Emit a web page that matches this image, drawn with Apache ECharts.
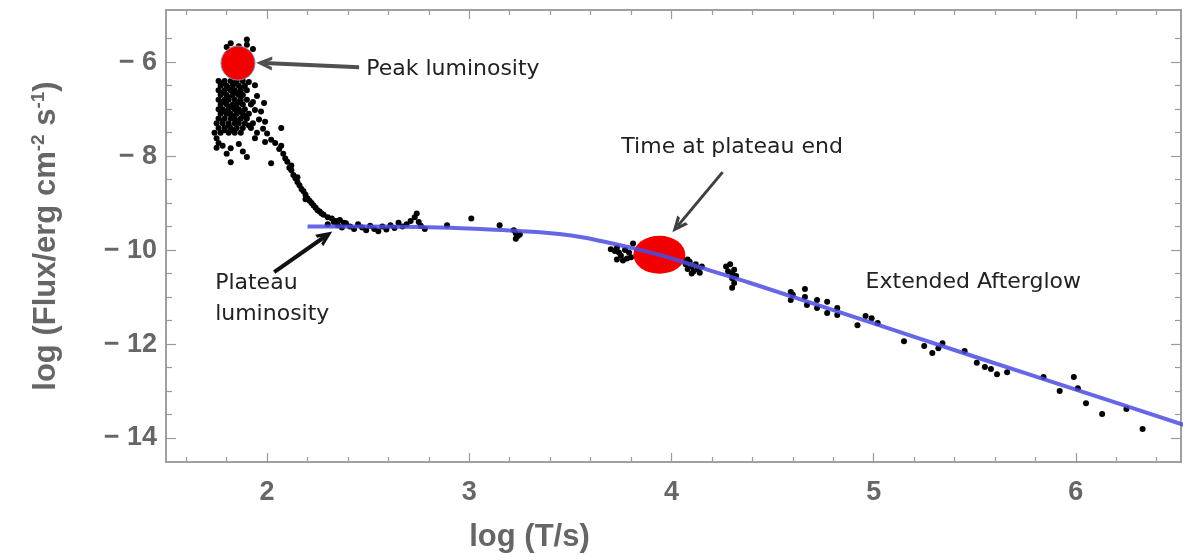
<!DOCTYPE html>
<html>
<head>
<meta charset="utf-8">
<script src="https://cdn.jsdelivr.net/npm/echarts@6/dist/echarts.min.js"></script>
<style>
  html, body { margin: 0; padding: 0; background: #fff; }
  #chart { width: 1191px; height: 560px; }
</style>
</head>
<body>
<div id="chart"></div>
<script>
// 坐标轴刻度
const xLabelValues = [2, 3, 4, 5, 6];
const xMinorValues = [1.6, 1.8, 2.2, 2.4, 2.6, 2.8, 3.2, 3.4, 3.6, 3.8, 4.2, 4.4, 4.6, 4.8, 5.2, 5.4, 5.6, 5.8, 6.2, 6.4];
const yLabelValues = [-14, -12, -10, -8, -6];
const yMinorValues = [-5.5, -6.5, -7, -7.5, -8.5, -9, -9.5, -10.5, -11, -11.5, -12.5, -13, -13.5];

// 观测点 [log T, log Flux]
const peakCluster = [
  [1.82, -5.60], [1.90, -5.52], [1.90, -5.63], [1.86, -5.66], [1.80, -5.68], [1.93, -5.72],
  [1.76, -6.40], [1.79, -6.40], [1.82, -6.40], [1.85, -6.40], [1.88, -6.40], [1.91, -6.42],
  [1.77, -6.50], [1.80, -6.50], [1.83, -6.50], [1.86, -6.50], [1.89, -6.50], [1.94, -6.49],
  [1.76, -6.60], [1.79, -6.60], [1.82, -6.60], [1.84, -6.60], [1.87, -6.60], [1.90, -6.60],
  [1.77, -6.70], [1.80, -6.70], [1.83, -6.70], [1.86, -6.70], [1.88, -6.70], [1.95, -6.72],
  [1.76, -6.80], [1.79, -6.80], [1.81, -6.80], [1.84, -6.80], [1.87, -6.80], [1.90, -6.80],
  [1.77, -6.90], [1.80, -6.90], [1.83, -6.90], [1.85, -6.90], [1.88, -6.90], [1.92, -6.90], [1.985, -6.87],
  [1.76, -7.00], [1.78, -7.00], [1.81, -7.00], [1.84, -7.00], [1.86, -7.00], [1.89, -7.00], [1.94, -7.02],
  [1.77, -7.10], [1.80, -7.10], [1.82, -7.10], [1.85, -7.10], [1.88, -7.10], [1.91, -7.10], [1.97, -7.05],
  [1.76, -7.20], [1.79, -7.20], [1.82, -7.20], [1.84, -7.20], [1.87, -7.20], [1.90, -7.20], [1.96, -7.22],
  [1.75, -7.30], [1.78, -7.30], [1.81, -7.30], [1.84, -7.30], [1.86, -7.30], [1.89, -7.30], [1.93, -7.30], [1.99, -7.27],
  [1.76, -7.40], [1.79, -7.40], [1.82, -7.40], [1.85, -7.40], [1.88, -7.40], [1.92, -7.40], [1.98, -7.42], [2.07, -7.40],
  [1.74, -7.50], [1.77, -7.50], [1.81, -7.50], [1.84, -7.50], [1.87, -7.50], [1.95, -7.50], [2.00, -7.52],
  [1.78, -6.45], [1.81, -6.55], [1.84, -6.45], [1.87, -6.55], [1.78, -6.65], [1.81, -6.75], [1.85, -6.65],
  [1.78, -6.85], [1.82, -6.95], [1.86, -6.85], [1.79, -7.05], [1.83, -7.15], [1.87, -7.05], [1.78, -7.25],
  [1.81, -7.35], [1.85, -7.25], [1.79, -7.45], [1.83, -7.45], [1.89, -7.15], [1.91, -7.35], [1.93, -6.85],
  [1.75, -7.62], [1.76, -7.72], [1.75, -7.82], [1.78, -7.78], [1.82, -7.83], [1.80, -7.95],
  [1.82, -8.13], [1.86, -7.74], [1.88, -7.90], [1.90, -8.02], [1.94, -7.62], [1.99, -7.70], [2.02, -8.15]
];
const decayTail = [
  [2.02, -7.65], [2.04, -7.72], [2.06, -7.85], [2.07, -7.78], [2.08, -7.95], [2.09, -8.05],
  [2.10, -8.12], [2.11, -8.25], [2.12, -8.20], [2.12, -8.30], [2.13, -8.40], [2.14, -8.47],
  [2.15, -8.55], [2.15, -8.45], [2.16, -8.62], [2.17, -8.70], [2.18, -8.75], [2.19, -8.82],
  [2.19, -8.92], [2.20, -8.90], [2.21, -8.95], [2.22, -9.00], [2.23, -9.05], [2.24, -9.10],
  [2.25, -9.15], [2.26, -9.18], [2.27, -9.22], [2.28, -9.25], [2.30, -9.30], [2.32, -9.33],
  [2.34, -9.38], [2.36, -9.36], [2.38, -9.42]
];
const plateauPoints = [
  [2.30, -9.45], [2.33, -9.40], [2.35, -9.47], [2.37, -9.52], [2.39, -9.43], [2.41, -9.50],
  [2.43, -9.55], [2.45, -9.45], [2.47, -9.52], [2.49, -9.58], [2.51, -9.48], [2.53, -9.55],
  [2.55, -9.60], [2.57, -9.50], [2.59, -9.56], [2.61, -9.47], [2.63, -9.53], [2.65, -9.42],
  [2.67, -9.50], [2.69, -9.45], [2.71, -9.38], [2.73, -9.30], [2.74, -9.22], [2.75, -9.40],
  [2.76, -9.48], [2.78, -9.55], [2.89, -9.47], [3.01, -9.33], [3.15, -9.47], [3.22, -9.58],
  [3.23, -9.64], [3.24, -9.70], [3.23, -9.76], [3.25, -9.67]
];
const breakPoints = [
  [3.70, -9.98], [3.72, -10.02], [3.73, -9.95], [3.74, -10.05], [3.75, -10.12], [3.73, -10.20],
  [3.76, -10.22], [3.78, -10.18], [3.77, -10.00], [3.79, -10.05], [3.81, -9.86], [3.80, -10.15],
  [4.06, -10.22], [4.07, -10.30], [4.08, -10.40], [4.09, -10.25], [4.10, -10.35], [4.11, -10.45],
  [4.12, -10.30], [4.13, -10.40], [4.14, -10.48], [4.15, -10.35], [4.10, -10.50], [4.08, -10.20],
  [4.27, -10.35], [4.28, -10.45], [4.29, -10.30], [4.30, -10.50], [4.31, -10.42], [4.30, -10.60],
  [4.31, -10.70], [4.30, -10.80], [4.32, -10.55]
];
const afterglowPoints = [
  [4.59, -10.89], [4.59, -11.06], [4.60, -10.95], [4.66, -10.83], [4.66, -11.00], [4.67, -11.17],
  [4.72, -11.06], [4.72, -11.23], [4.77, -11.10], [4.77, -11.34], [4.82, -11.23], [4.82, -11.38],
  [4.92, -11.60], [4.96, -11.40], [4.99, -11.45], [5.02, -11.55], [5.15, -11.94], [5.25, -12.04],
  [5.29, -12.19], [5.32, -12.09], [5.34, -11.98], [5.45, -12.15], [5.51, -12.40], [5.55, -12.49],
  [5.58, -12.53], [5.61, -12.64], [5.66, -12.60], [5.84, -12.70], [5.92, -13.00], [5.99, -12.70],
  [6.01, -12.94], [6.05, -13.26], [6.13, -13.49], [6.25, -13.38], [6.33, -13.81]
];

// 拟合曲线
const fitLine = [
  [2.20, -9.50], [2.50, -9.50], [2.85, -9.52], [3.10, -9.56], [3.35, -9.62], [3.55, -9.72],
  [3.73, -9.88], [3.94, -10.10], [4.15, -10.38], [4.39, -10.70], [5.00, -11.56], [5.50, -12.27],
  [6.00, -12.97], [6.57, -13.77]
];

// 特殊点
const peakMarker = [[1.856, -6.02]];
const breakMarker = [[3.94, -10.10]];

const X_MIN = 1.5, X_MAX = 6.52;
const Y_MIN = -14.51, Y_MAX = -4.89;
const frameColor = '#9a9a9a';
const labelFont = 'Liberation Sans';
const noteFont = 'DejaVu Sans';
const chevron = 'path://M0,14 L7,0 L14,14 L10.5,14 L7,6.5 L3.5,14 Z';

function xAxisAt(position, ticks, len, extra) {
  return Object.assign({
    type: 'value', position, min: X_MIN, max: X_MAX,
    axisLine: { show: true, onZero: false, lineStyle: { color: frameColor, width: 1.5 } },
    axisTick: { show: true, inside: true, length: len, customValues: ticks, lineStyle: { color: frameColor, width: 1.2 } },
    axisLabel: { show: false },
    splitLine: { show: false }
  }, extra);
}
function yAxisAt(position, ticks, len, extra) {
  return Object.assign({
    type: 'value', position, min: Y_MIN, max: Y_MAX,
    axisLine: { show: true, onZero: false, lineStyle: { color: frameColor, width: 1.5 } },
    axisTick: { show: true, inside: true, length: len, customValues: ticks, lineStyle: { color: frameColor, width: 1.2 } },
    axisLabel: { show: false },
    splitLine: { show: false }
  }, extra);
}

const myChart = echarts.init(document.getElementById('chart'));

const option = {
  animation: false,
  backgroundColor: '#fff',
  grid: { left: 166, right: 10, top: 10, bottom: 98 },
  xAxis: [
    xAxisAt('bottom', xLabelValues, 9, {
      axisLabel: {
        show: true, customValues: xLabelValues, margin: 17,
        color: '#666', fontFamily: labelFont, fontWeight: 'bold', fontSize: 27
      },
      name: 'log (T/s)', nameLocation: 'middle', nameGap: 60,
      nameTextStyle: {
        color: '#666', fontFamily: labelFont, fontWeight: 'bold', fontSize: 31,
        padding: [0, 288, 0, 0]
      }
    }),
    xAxisAt('bottom', xMinorValues, 5),
    xAxisAt('top', xLabelValues, 9),
    xAxisAt('top', xMinorValues, 5)
  ],
  yAxis: [
    yAxisAt('left', yLabelValues, 10, {
      axisLabel: {
        show: true, customValues: yLabelValues, margin: 9,
        color: '#666', fontFamily: labelFont, fontWeight: 'bold', fontSize: 27,
        formatter: v => '\u2212 ' + Math.abs(v)
      },
      name: 'log (Flux/erg cm{sup|-2} s{sup|-1})', nameLocation: 'middle', nameGap: 102,
      nameTextStyle: {
        color: '#666', fontFamily: labelFont, fontWeight: 'bold', fontSize: 31,
        rich: { sup: { color: '#666', fontFamily: labelFont, fontWeight: 'bold', fontSize: 19, padding: [0, 0, 16, 0] } }
      }
    }),
    yAxisAt('left', yMinorValues, 6),
    yAxisAt('right', yLabelValues, 10),
    yAxisAt('right', yMinorValues, 6)
  ],
  series: [
    {
      name: 'data',
      type: 'scatter',
      data: [].concat(peakCluster, decayTail, plateauPoints, breakPoints, afterglowPoints),
      symbolSize: 6,
      itemStyle: { color: '#000', opacity: 1 },
      z: 1
    },
    {
      name: 'peak',
      type: 'scatter',
      data: peakMarker,
      symbolSize: 34,
      itemStyle: { color: '#f20000', opacity: 1, borderColor: '#8a8aa8', borderWidth: 1 },
      z: 2
    },
    {
      name: 'break',
      type: 'scatter',
      data: breakMarker,
      symbolSize: [52, 38],
      itemStyle: { color: '#f20000', opacity: 1 },
      z: 2
    },
    {
      name: 'fit',
      type: 'line',
      data: fitLine,
      smooth: 0.3,
      showSymbol: false,
      lineStyle: { color: '#4c4ce2', width: 4, opacity: 0.85 },
      z: 3,
      markLine: {
        silent: true,
        animation: false,
        symbol: ['none', chevron],
        symbolSize: [14, 16],
        label: { show: false },
        data: [
          [{ coord: [2.455, -6.106], lineStyle: { color: '#505050', width: 4, type: 'solid' } }, { coord: [1.985, -6.02] }],
          [{ coord: [4.253, -8.34], lineStyle: { color: '#404040', width: 3, type: 'solid' } }, { coord: [4.03, -9.49] }],
          [{ coord: [2.035, -10.47], lineStyle: { color: '#111', width: 4, type: 'solid' } }, { coord: [2.29, -9.70] }]
        ]
      },
      markPoint: {
        silent: true,
        animation: false,
        symbol: 'circle',
        symbolSize: 0,
        label: {
          show: true, position: 'right', distance: 0, formatter: '{b}',
          color: '#222', fontFamily: noteFont, fontSize: 22, lineHeight: 31
        },
        data: [
          { name: 'Peak luminosity', coord: [2.49, -6.15] },
          { name: 'Time at plateau end', coord: [3.752, -7.81] },
          { name: 'Plateau\nluminosity', coord: [1.743, -11.03] },
          { name: 'Extended Afterglow', coord: [4.96, -10.68] }
        ]
      }
    }
  ]
};

myChart.setOption(option);
</script>
</body>
</html>
